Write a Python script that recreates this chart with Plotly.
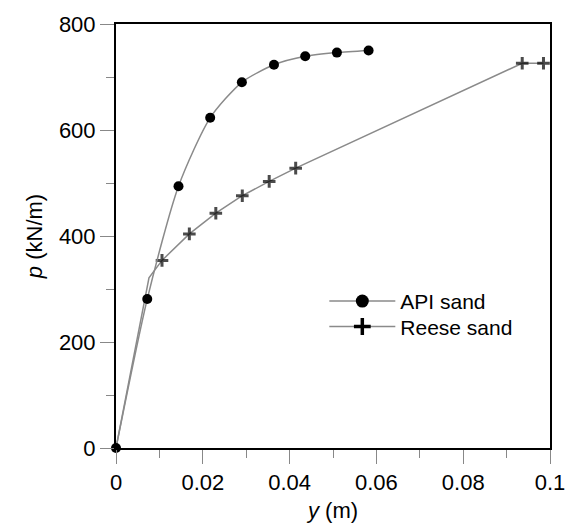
import plotly.graph_objects as go

# API sand p-y curve
api_y = [0, 0.0072, 0.0144, 0.0217, 0.0290, 0.0364, 0.0436, 0.0509, 0.0582]
api_p = [0, 281, 494, 623, 690, 723, 739, 746, 750]

# Reese sand p-y curve (second point is the unmarked kink of the initial linear part)
reese_y = [0, 0.0076, 0.0106, 0.0169, 0.0230, 0.0291, 0.0353, 0.0414, 0.0936, 0.0985]
reese_p = [0, 321, 354, 404, 443, 476, 503, 528, 726, 726]
reese_marked = [False, False, True, True, True, True, True, True, True, True]

FONT = "Liberation Sans, Arial, sans-serif"
LINE_GREY = "#8a8a8a"

fig = go.Figure()
fig.add_trace(go.Scatter(
    x=reese_y, y=reese_p, name="Reese sand", mode="lines+markers", showlegend=False,
    line=dict(color=LINE_GREY, width=1.5),
    marker=dict(symbol="cross-thin", size=[9 if m else 0 for m in reese_marked],
                color="black", line=dict(color="black", width=3)),
))
fig.add_trace(go.Scatter(
    x=api_y, y=api_p, name="API sand", mode="lines+markers", showlegend=False,
    cliponaxis=False,
    line=dict(color=LINE_GREY, width=1.5, shape="spline", smoothing=0.7),
    marker=dict(symbol="circle", size=10, color="black"),
))
# legend entries (larger symbols, as in the reference legend)
fig.add_trace(go.Scatter(
    x=[None], y=[None], name="API sand", mode="lines+markers", legend="legend",
    line=dict(color=LINE_GREY, width=1.5),
    marker=dict(symbol="circle", size=13, color="black"),
))
fig.add_trace(go.Scatter(
    x=[None], y=[None], name="Reese sand", mode="lines+markers", legend="legend2",
    line=dict(color=LINE_GREY, width=1.5),
    marker=dict(symbol="cross-thin", size=12, color="black", line=dict(color="black", width=3.5)),
))

axis_common = dict(
    showgrid=False, zeroline=False, showline=True, linecolor="black", linewidth=2,
    mirror=True, ticks="outside", ticklen=14, tickwidth=1.2, tickcolor="#888888",
    tickfont=dict(family=FONT, size=22, color="black"),
)
fig.update_xaxes(
    range=[0, 0.1], tickvals=[0, 0.02, 0.04, 0.06, 0.08, 0.1],
    ticktext=["0", "0.02", "0.04", "0.06", "0.08", "0.1"],
    minor=dict(tickvals=[0.01, 0.03, 0.05, 0.07, 0.09], ticks="outside", ticklen=8,
               tickcolor="#888888", tickwidth=1.2),
    title=dict(text="<i>y</i> (m)", font=dict(family=FONT, size=22, color="black"), standoff=8),
    **axis_common,
)
fig.update_yaxes(
    range=[0, 800], tickvals=[0, 200, 400, 600, 800],
    minor=dict(tickvals=[100, 300, 500, 700], ticks="outside", ticklen=8,
               tickcolor="#888888", tickwidth=1.2),
    title=dict(text="<i>p</i> (kN/m)", font=dict(family=FONT, size=22, color="black"), standoff=10),
    **axis_common,
)
legend_common = dict(xanchor="left", yanchor="middle", bgcolor="rgba(0,0,0,0)", itemwidth=66,
                     font=dict(family=FONT, size=21, color="black"))
fig.update_layout(
    width=577, height=531,
    margin=dict(l=116, r=26, t=19, b=78),
    paper_bgcolor="white", plot_bgcolor="white",
    showlegend=True,
    legend=dict(x=0.48, y=0.3456, **legend_common),
    legend2=dict(x=0.48, y=0.2857, **legend_common),
)
fig.write_html("out.html")
